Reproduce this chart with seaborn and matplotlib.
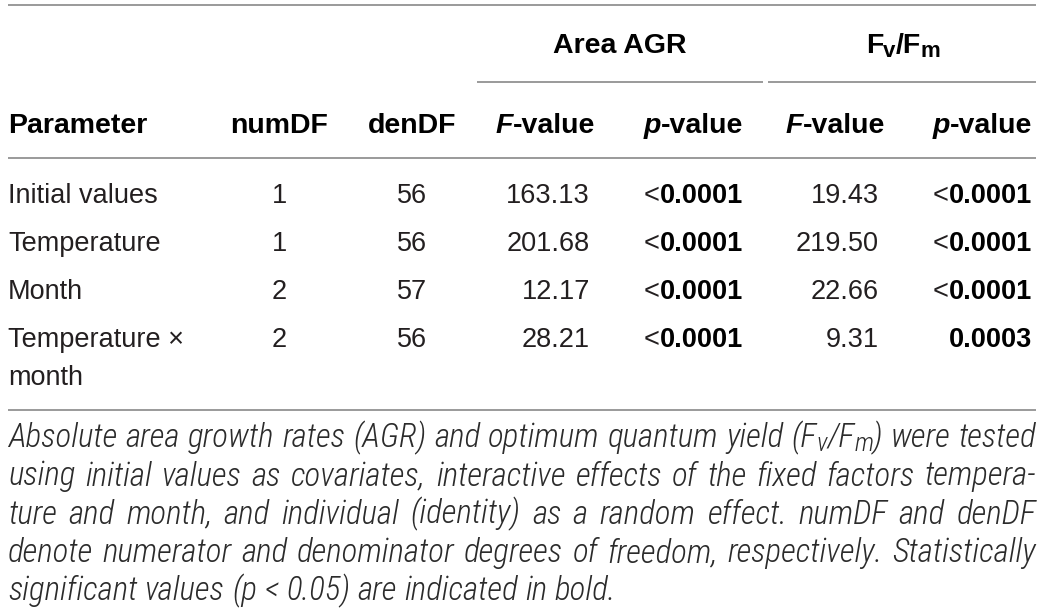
import re
import matplotlib
matplotlib.use('Agg')
import matplotlib.pyplot as plt
from matplotlib import font_manager as fm
import seaborn as sns

# Table content
parameters = ['Initial values', 'Temperature', 'Month', 'Temperature ×\nmonth']
num_df = [1, 1, 2, 2]
den_df = [56, 56, 57, 56]
agr_f = [163.13, 201.68, 12.17, 28.21]
agr_p = ['<0.0001', '<0.0001', '<0.0001', '<0.0001']
fv_f = [19.43, 219.50, 22.66, 9.31]
fv_p = ['<0.0001', '<0.0001', '<0.0001', '0.0003']

group_headers = ['Area AGR', 'F_v/F_m']
col_headers = ['Parameter', 'numDF', 'denDF', 'F-value', 'p-value', 'F-value', 'p-value']

caption_lines = [
    'Absolute area growth rates (AGR) and optimum quantum yield (F_v/F_m) were tested',
    'using initial values as covariates, interactive effects of the fixed factors tempera-',
    'ture and month, and individual (identity) as a random effect. numDF and denDF',
    'denote numerator and denominator degrees of freedom, respectively. Statistically',
    'significant values (p < 0.05) are indicated in bold.',
]


def has_font(name):
    try:
        fm.findfont(fm.FontProperties(family=name), fallback_to_default=False)
        return True
    except ValueError:
        return False


def condensed_font():
    # look for a narrow / condensed italic face for the caption
    for fam, stretch in [('Liberation Sans Narrow', 'normal'), ('Roboto Condensed', 'normal'),
                         ('Open Sans Condensed', 'normal'), ('DejaVu Sans', 'condensed')]:
        try:
            path = fm.findfont(fm.FontProperties(family=fam, style='italic', stretch=stretch),
                               fallback_to_default=False)
        except ValueError:
            continue
        low = path.lower()
        if 'narrow' in low or 'condensed' in low:
            return fam, stretch
    return None, 'normal'


sns.set_theme(style='white')
main_font = 'Liberation Sans' if has_font('Liberation Sans') else 'DejaVu Sans'
cap_font, cap_stretch = condensed_font()
if cap_font is None:
    cap_font = main_font
plt.rcParams['font.family'] = [main_font, 'DejaVu Sans']

TEXT = '#231f20'
RULE = '#9a9a9a'
BODY_SIZE = 19.5
HEAD_SIZE = 20.5

fig = plt.figure(figsize=(10.44, 6.09), dpi=100)
ax = fig.add_axes([0, 0, 1, 1])
ax.set_xlim(0, 1044)
ax.set_ylim(609, 0)
ax.axis('off')
renderer = fig.canvas.get_renderer()


def measure(text, **props):
    t = ax.text(0, 0, text, **props)
    w = t.get_window_extent(renderer).width
    t.remove()
    return w


def draw_runs(x, y, runs, ha='left'):
    # runs: (text, props, dy)
    widths = [measure(t, **p) for t, p, _ in runs]
    total = sum(widths)
    if ha == 'right':
        x -= total
    elif ha == 'center':
        x -= total / 2
    for (t, p, dy), w in zip(runs, widths):
        ax.text(x, y + dy, t, ha='left', va='baseline', **p)
        x += w
    return total


def sub_runs(word, props):
    # "F_v" style markup -> subscripted runs
    parts = re.split(r'_(\w)', word)
    runs = []
    for i, part in enumerate(parts):
        if not part:
            continue
        if i % 2:
            sp = dict(props)
            sp['fontsize'] = props['fontsize'] * 0.78
            runs.append((part, sp, 4))
        else:
            runs.append((part, props, 0))
    return runs


head = dict(fontsize=HEAD_SIZE, fontweight='bold', color='black', family=main_font)
head_it = dict(head, fontstyle='italic')
body = dict(fontsize=BODY_SIZE, color=TEXT, family=main_font)
body_b = dict(body, fontweight='bold', color='black')

# rules
ax.hlines([5, 158, 410], 8, 1036, color=RULE, lw=1.4)
ax.hlines(82, 477, 763, color=RULE, lw=1.4)
ax.hlines(82, 768, 1036, color=RULE, lw=1.4)

# group headers
draw_runs(620, 53, sub_runs(group_headers[0], head), ha='center')
draw_runs(903, 53, sub_runs(group_headers[1], head), ha='center')

# column headers
hy = 133
draw_runs(8, hy, [(col_headers[0], head, 0)])
draw_runs(279, hy, [(col_headers[1], head, 0)], ha='center')
draw_runs(412, hy, [(col_headers[2], head, 0)], ha='center')
for x, lab, ha in [(545, col_headers[3], 'center'), (743, col_headers[4], 'right'),
                   (835, col_headers[5], 'center'), (1032, col_headers[6], 'right')]:
    draw_runs(x, hy, [(lab[0], head_it, 0), (lab[1:], head, 0)], ha=ha)


def p_runs(val):
    if val.startswith('<'):
        return [('<', body, 0), (val[1:], body_b, 0)]
    return [(val, body_b, 0)]


row_y = [203, 251, 299, 347]
for i, y in enumerate(row_y):
    for k, line in enumerate(parameters[i].split('\n')):
        ax.text(8, y + 38 * k, line, ha='left', va='baseline', **body)
    ax.text(279, y, str(num_df[i]), ha='center', va='baseline', **body)
    ax.text(412, y, str(den_df[i]), ha='center', va='baseline', **body)
    ax.text(590, y, f'{agr_f[i]:.2f}', ha='right', va='baseline', **body)
    draw_runs(743, y, p_runs(agr_p[i]), ha='right')
    ax.text(879, y, f'{fv_f[i]:.2f}', ha='right', va='baseline', **body)
    draw_runs(1032, y, p_runs(fv_p[i]), ha='right')

# caption, justified
cap = dict(fontsize=BODY_SIZE, color='#2b2b2b', family=cap_font, fontstyle='italic',
           fontstretch=cap_stretch, fontweight='light')
left, right = 8, 1036


def line_words(line, props):
    return [sub_runs(w, props) for w in line.split(' ')]


# fit caption size so the tightest line fills the width
space_w = measure('a a', **cap) - 2 * measure('a', **cap)
natural = []
for line in caption_lines[:-1]:
    ws = line_words(line, cap)
    natural.append(sum(measure(t, **p) for w in ws for t, p, _ in w) + space_w * (len(ws) - 1))
cap['fontsize'] = min(cap['fontsize'] * (right - left) / max(natural) * 0.995, 24)

cap_y = [447, 485.5, 523.5, 562, 600]
for n, line in enumerate(caption_lines):
    words = line_words(line, cap)
    widths = [sum(measure(t, **p) for t, p, _ in w) for w in words]
    if n < len(caption_lines) - 1:
        gap = (right - left - sum(widths)) / (len(words) - 1)
    else:
        gap = measure('a a', **cap) - 2 * measure('a', **cap)
    x = left
    for w, wd in zip(words, widths):
        draw_runs(x, cap_y[n], w)
        x += wd + gap

fig.savefig('out.png', dpi=100, facecolor='white')
